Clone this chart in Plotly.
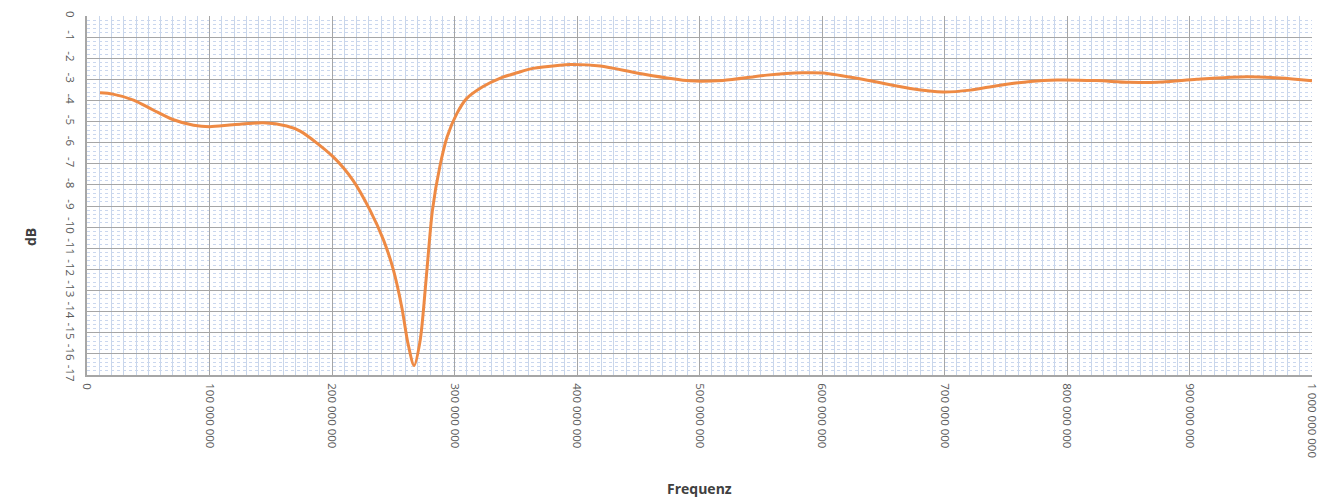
import plotly.graph_objects as go

freq_mhz = [10.6, 21, 38, 54, 70, 87, 100, 119, 144, 163, 174, 201, 217, 231, 242, 250,
            257, 262, 267, 272, 277, 282, 288, 294, 302, 310, 323, 337, 351, 364, 386,
            394, 419, 451, 492, 519, 555, 584, 601, 637, 672, 699, 721, 743, 770, 792,
            824, 851, 878, 906, 947, 974, 1000]
db_values = [-3.64, -3.70, -3.98, -4.45, -4.90, -5.17, -5.24, -5.15, -5.06, -5.21, -5.45,
             -6.67, -7.77, -9.19, -10.6, -12.0, -13.8, -15.5, -16.55, -15.35, -12.35,
             -9.19, -7.14, -5.72, -4.61, -3.90, -3.35, -2.95, -2.69, -2.48, -2.33, -2.30,
             -2.37, -2.72, -3.07, -3.05, -2.80, -2.69, -2.70, -3.04, -3.43, -3.60, -3.51,
             -3.30, -3.10, -3.03, -3.06, -3.14, -3.12, -3.00, -2.88, -2.94, -3.07]

x_tick_vals = [0, 100e6, 200e6, 300e6, 400e6, 500e6, 600e6, 700e6, 800e6, 900e6, 1000e6]
x_tick_text = ["0", "100 000 000", "200 000 000", "300 000 000", "400 000 000",
               "500 000 000", "600 000 000", "700 000 000", "800 000 000",
               "900 000 000", "1 000 000 000"]
y_tick_vals = list(range(0, -18, -1))
y_tick_text = [str(v) for v in y_tick_vals]

freq_hz = [f * 1e6 for f in freq_mhz]

# the page body has an 8px default margin, so figure pixels are offset by 8
W, H = 1333, 497
ML, MR, MT, MB = 79, 29, 8, 130
plot_w = W - ML - MR
plot_h = H - MT - MB

fig = go.Figure()
fig.add_trace(go.Scatter(
    x=freq_hz, y=db_values, mode="lines",
    line=dict(color="#EE8A44", width=3, shape="spline", smoothing=0.8),
    hoverinfo="skip", showlegend=False,
))

fig.update_layout(
    width=W, height=H,
    margin=dict(l=ML, r=MR, t=MT, b=MB, autoexpand=False),
    paper_bgcolor="white", plot_bgcolor="white",
    font=dict(family="Open Sans", color="#595959", size=12),
    xaxis=dict(
        range=[0, 1e9], tickvals=x_tick_vals, ticktext=x_tick_text, tickangle=90,
        automargin=False,
        showgrid=True, gridcolor="#A6A6A6", gridwidth=1,
        minor=dict(dtick=1e7, tick0=0, showgrid=True, gridcolor="#C9D6EA", gridwidth=1),
        showline=True, linecolor="#A6A6A6", linewidth=2, zeroline=False,
        ticks="", ticklabelstandoff=4, tickfont=dict(size=11.5, color="#595959"),
    ),
    yaxis=dict(
        range=[-17, 0], tickvals=y_tick_vals, ticktext=y_tick_text, tickangle=90,
        automargin=False,
        showgrid=True, gridcolor="#A6A6A6", gridwidth=1,
        minor=dict(dtick=0.2, tick0=0, showgrid=True, gridcolor="#CAD7EE",
                   griddash="dot", gridwidth=1),
        showline=True, linecolor="#A6A6A6", linewidth=2, zeroline=False,
        ticks="", ticklabelstandoff=5, tickfont=dict(size=11.5, color="#595959"),
    ),
    annotations=[
        dict(text="<b>Frequenz</b>", xref="paper", yref="paper",
             x=0.5, y=(H - MB - 480) / plot_h, xanchor="center", yanchor="middle",
             showarrow=False, font=dict(size=14, color="#404040")),
        dict(text="<b>dB</b>", textangle=-90, xref="paper", yref="paper",
             x=(22 - ML) / plot_w, y=(H - MB - 229) / plot_h,
             xanchor="center", yanchor="middle",
             showarrow=False, font=dict(size=14, color="#404040")),
    ],
)

fig.write_html("out.html")
